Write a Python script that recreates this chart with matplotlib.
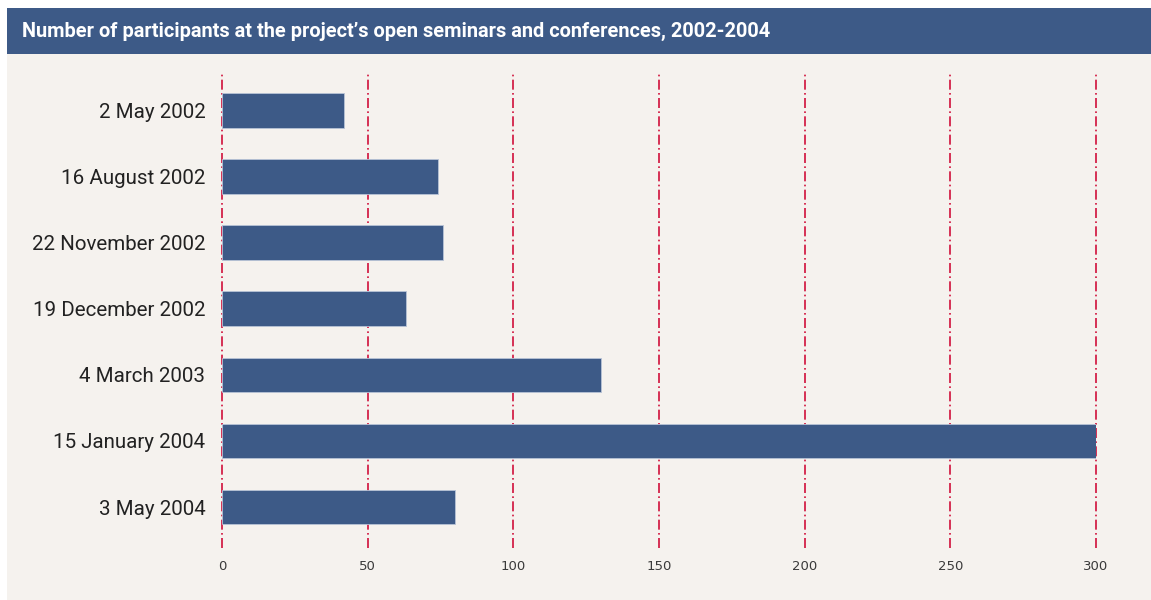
import matplotlib
matplotlib.use("Agg")
import matplotlib.pyplot as plt
from matplotlib.patches import Rectangle

categories = ["2 May 2002", "16 August 2002", "22 November 2002", "19 December 2002",
              "4 March 2003", "15 January 2004", "3 May 2004"]
participants = [42, 74, 76, 63, 130, 300, 80]
xticks = [0, 50, 100, 150, 200, 250, 300]
title = "Number of participants at the project\u2019s open seminars and conferences, 2002-2004"

W, H = 1151, 600
fig = plt.figure(figsize=(W / 100, H / 100), dpi=100)
fig.patch.set_facecolor("white")

bg = "#f5f2ee"
navy = "#3d5a87"
red = "#d0103a"

# panel background
fig.patches.append(Rectangle((7 / W, 0), 1 - 7 / W, 1 - 8 / H, transform=fig.transFigure,
                             facecolor=bg, edgecolor="none", zorder=-2))
# title bar
fig.patches.append(Rectangle((7 / W, 1 - 54 / H), 1 - 7 / W, 46 / H, transform=fig.transFigure,
                             facecolor=navy, edgecolor="none", zorder=-1))
fig.text(22 / W, 1 - 31 / H, title, color="white", fontsize=14.4, fontweight="bold",
         family="Roboto", va="center", ha="left")

ax = fig.add_axes([222 / W, 1 - 548 / H, (1096 - 222) / W, (548 - 74) / H])
ax.set_zorder(5)
ax.set_facecolor("none")
y = list(range(len(categories)))
ax.barh(y, participants, height=0.52, color=navy, edgecolor="#b8c3d6", linewidth=0.6, zorder=3)
ax.set_xlim(0, 300)
ax.set_ylim(6.62, -0.55)
for t in xticks:
    ax.axvline(t, color=red, linestyle=(0, (6, 2, 1, 2)), linewidth=1.2, zorder=2, clip_on=False)
ax.set_xticks(xticks)
ax.set_xticklabels([str(t) for t in xticks], fontsize=9.5, color="#3a3a3a", family="DejaVu Sans")
ax.set_yticks(y)
ax.set_yticklabels(categories, fontsize=14.8, color="#222222", family="Roboto")
ax.tick_params(axis="both", length=0)
ax.tick_params(axis="x", pad=9)
ax.tick_params(axis="y", pad=12)
for s in ax.spines.values():
    s.set_visible(False)

fig.savefig("out.png", dpi=100, facecolor=fig.get_facecolor())
